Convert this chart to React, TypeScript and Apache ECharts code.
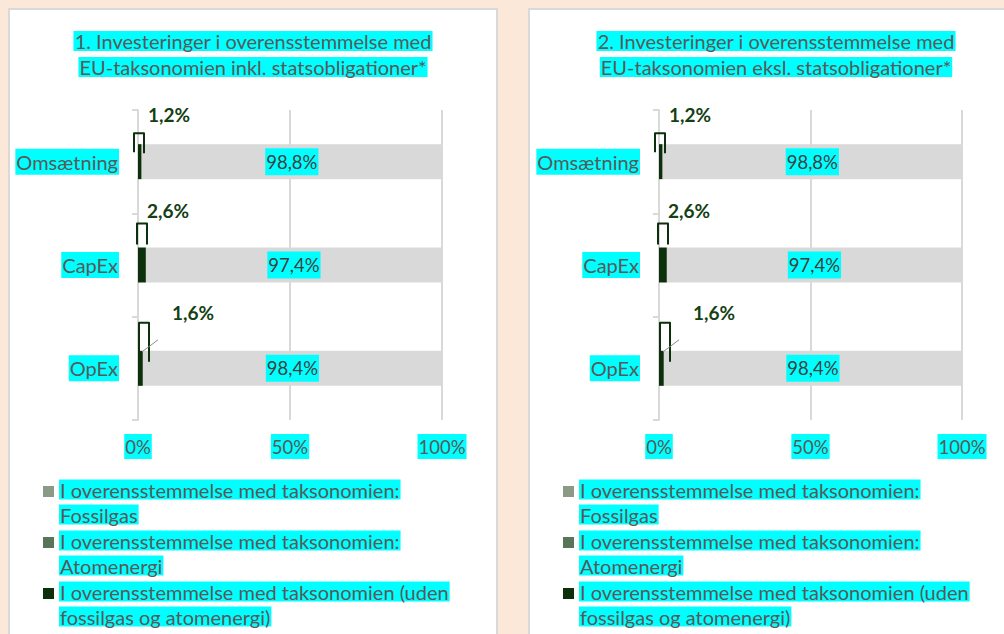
import React, { useEffect, useRef } from 'react';
import * as echarts from 'echarts';

// ---------- data ----------
const categories = ['Omsætning', 'CapEx', 'OpEx'];
const fossilgas = [0, 0, 0];
const atomenergi = [0, 0, 0];
const alignedOther = [1.2, 2.6, 1.6];
const notAligned = [98.8, 97.4, 98.4];
const xTicks = [0, 50, 100];
const panelTitles = [
  ['1. Investeringer i overensstemmelse med', 'EU-taksonomien inkl. statsobligationer*'],
  ['2. Investeringer i overensstemmelse med', 'EU-taksonomien eksl. statsobligationer*'],
];
const legendNames = [
  'I overensstemmelse med taksonomien: Fossilgas',
  'I overensstemmelse med taksonomien: Atomenergi',
  'I overensstemmelse med taksonomien (uden fossilgas og atomenergi)',
];
const legendLines: Record<string, string[]> = {
  [legendNames[0]]: ['I overensstemmelse med taksonomien:', 'Fossilgas'],
  [legendNames[1]]: ['I overensstemmelse med taksonomien:', 'Atomenergi'],
  [legendNames[2]]: ['I overensstemmelse med taksonomien (uden', 'fossilgas og atomenergi)'],
};
const notAlignedName = 'Ikke i overensstemmelse med taksonomien';

// ---------- styles ----------
const FONT = 'Lato';
const TEXT = '#595959';
const CYAN = '#00ffff';
const GRID_C = '#d9d9d9';
const COLORS = ['#8a9a86', '#587558', '#0c2f0c', '#d9d9d9'];
const LABEL_GREEN = '#153f15';
const BAR_W = 35;
const LABEL_POS = [[31, -30], [30, -37], [55, -38]];
const CALLOUTS = [
  { l: -4, r: 6, t: -11, bl: 8, br: 9, leader: null as null | number[][] },
  { l: -1, r: 9, t: -24, bl: -3, br: -3, leader: null as null | number[][] },
  { l: 1, r: 11, t: -28, bl: 11, br: 11, leader: [[4, 1], [20, -11]] },
];
const PANELS = [
  { gridLeft: 138, gridWidth: 304, center: 253, legendLeft: 43 },
  { gridLeft: 659, gridWidth: 303, center: 776, legendLeft: 563 },
];

const fmt = (v: number) => v.toFixed(1).replace('.', ',') + '%';

function buildOption() {
  const grid: any[] = [];
  const xAxis: any[] = [];
  const yAxis: any[] = [];
  const series: any[] = [];
  const title: any[] = [];
  const legend: any[] = [];

  PANELS.forEach((p, gi) => {
    grid.push({ left: p.gridLeft, width: p.gridWidth, top: 110, height: 310 });
    xAxis.push({
      gridIndex: gi,
      type: 'value',
      min: xTicks[0],
      max: xTicks[xTicks.length - 1],
      interval: xTicks[1] - xTicks[0],
      axisLine: { show: false },
      axisTick: { show: false },
      splitLine: { lineStyle: { color: GRID_C, width: 2 } },
      axisLabel: {
        formatter: '{value}%',
        margin: 14,
        color: TEXT,
        fontFamily: FONT,
        fontSize: 18.5,
        backgroundColor: CYAN,
        padding: [3, 1, 3, 1],
      },
    });
    yAxis.push({
      gridIndex: gi,
      type: 'category',
      data: categories,
      inverse: true,
      axisLine: { lineStyle: { color: GRID_C, width: 2 } },
      axisTick: { show: true, length: 6, lineStyle: { color: GRID_C, width: 2 } },
      axisLabel: {
        margin: 19,
        color: TEXT,
        fontFamily: FONT,
        fontSize: 20,
        lineHeight: 26,
        backgroundColor: CYAN,
        padding: [0, 1, 0, 1],
      },
    });
    const stack = 's' + gi;
    const common = { xAxisIndex: gi, yAxisIndex: gi, stack, barWidth: BAR_W, type: 'bar' };
    series.push({ ...common, name: legendNames[0], data: fossilgas, itemStyle: { color: COLORS[0] } });
    series.push({ ...common, name: legendNames[1], data: atomenergi, itemStyle: { color: COLORS[1] } });
    series.push({
      ...common,
      name: legendNames[2],
      itemStyle: { color: COLORS[2] },
      data: alignedOther.map((v, i) => ({ value: v, label: { position: LABEL_POS[i] } })),
      label: {
        show: true,
        formatter: (pp: any) => fmt(pp.value),
        align: 'center',
        verticalAlign: 'middle',
        color: LABEL_GREEN,
        fontFamily: FONT,
        fontWeight: 'bold',
        fontSize: 19,
      },
    });
    series.push({
      ...common,
      name: notAlignedName,
      itemStyle: { color: COLORS[3] },
      data: notAligned,
      label: {
        show: true,
        position: 'inside',
        formatter: (pp: any) => fmt(pp.value),
        color: '#404040',
        fontFamily: FONT,
        fontSize: 18.5,
        backgroundColor: CYAN,
        padding: [4, 1, 4, 1],
      },
    });
    series.push({
      type: 'custom',
      xAxisIndex: gi,
      yAxisIndex: gi,
      silent: true,
      clip: false,
      z: 5,
      encode: { x: 0, y: 1 },
      data: categories.map((_, i) => [0, i]),
      renderItem: (_params: any, api: any) => {
        const idx = api.value(1);
        const base = api.coord([0, idx]);
        const x0 = base[0];
        const top = base[1] - BAR_W / 2;
        const c = CALLOUTS[idx];
        const children: any[] = [
          {
            type: 'polyline',
            shape: {
              points: [
                [x0 + c.l, top + c.bl],
                [x0 + c.l, top + c.t],
                [x0 + c.r, top + c.t],
                [x0 + c.r, top + c.br],
              ],
            },
            style: { stroke: COLORS[2], lineWidth: 2, fill: null, lineJoin: 'round' },
          },
        ];
        if (c.leader) {
          children.push({
            type: 'line',
            shape: {
              x1: x0 + c.leader[0][0],
              y1: top + c.leader[0][1],
              x2: x0 + c.leader[1][0],
              y2: top + c.leader[1][1],
            },
            style: { stroke: '#7f917f', lineWidth: 1 },
          });
        }
        return { type: 'group', children };
      },
    });

    title.push({
      left: p.center,
      top: 28,
      textAlign: 'center',
      padding: 0,
      text: panelTitles[gi].map((l) => `{a|${l}}`).join('\n'),
      textStyle: {
        fontWeight: 'normal',
        rich: {
          a: {
            fontFamily: FONT,
            fontSize: 20,
            fontWeight: 'normal',
            color: TEXT,
            lineHeight: 26,
            backgroundColor: CYAN,
            padding: [0, 1, 0, 1],
          },
        },
      },
    });

    legend.push({
      orient: 'vertical',
      left: p.legendLeft,
      top: 477,
      itemGap: 1,
      itemWidth: 11,
      itemHeight: 50,
      padding: 0,
      selectedMode: false,
      icon: 'path://M0,0L0.01,0L0.01,0.01Z M0,9L11,9L11,20L0,20Z M0,50L0.01,50L0.01,50.01Z',
      data: legendNames,
      formatter: (name: string) => legendLines[name].map((l) => `{a|${l}}`).join('\n'),
      textStyle: {
        rich: {
          a: {
            fontFamily: FONT,
            fontSize: 20,
            color: TEXT,
            lineHeight: 25,
            backgroundColor: CYAN,
            padding: [0, 1, 0, 1],
          },
        },
      },
    });
  });

  return {
    animation: false,
    backgroundColor: '#fbe8d8',
    graphic: [
      {
        type: 'rect',
        z: -10,
        shape: { x: 9, y: 9, width: 488, height: 640 },
        style: { fill: '#ffffff', stroke: '#d9d9d9', lineWidth: 2 },
      },
      {
        type: 'rect',
        z: -10,
        shape: { x: 529, y: 9, width: 500, height: 640 },
        style: { fill: '#ffffff', stroke: '#d9d9d9', lineWidth: 2 },
      },
    ],
    title,
    legend,
    grid,
    xAxis,
    yAxis,
    series,
  };
}

export default function App() {
  const ref = useRef<HTMLDivElement>(null);
  useEffect(() => {
    if (!ref.current) return;
    const chart = echarts.init(ref.current, undefined, { renderer: 'svg' });
    chart.setOption(buildOption() as any);
    return () => chart.dispose();
  }, []);
  return (
    <div
      ref={ref}
      style={{ position: 'absolute', left: 0, top: 0, width: 1004, height: 634 }}
    />
  );
}
